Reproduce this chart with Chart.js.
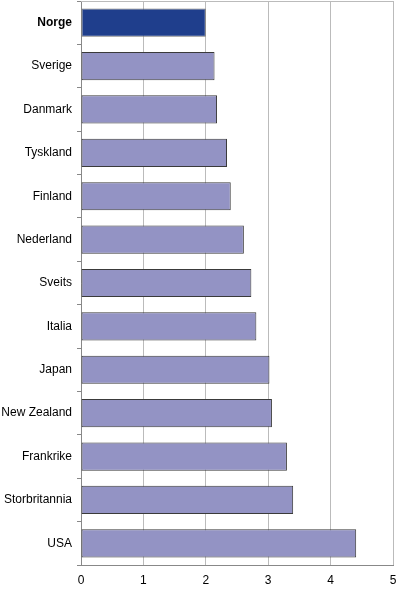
<!DOCTYPE html>
<html><head><meta charset="utf-8">
<script src="https://cdn.jsdelivr.net/npm/chart.js@4"></script>
<style>html,body{margin:0;padding:0;background:#fff;}#wrap{width:397px;height:590px;}</style>
</head><body><div id="wrap"><canvas id="c"></canvas></div>
<script>
const categories = ["Norge","Sverige","Danmark","Tyskland","Finland","Nederland","Sveits","Italia","Japan","New Zealand","Frankrike","Storbritannia","USA"];
const values = [2.0,2.14,2.18,2.34,2.40,2.61,2.73,2.81,3.02,3.06,3.30,3.40,4.41];
const xTicks = [0,1,2,3,4,5];
const highlight = "Norge";

const topBorder = {
  id:'topBorder',
  afterDraw(chart){
    const {ctx, chartArea:a} = chart;
    ctx.save();
    ctx.strokeStyle='#bbbbbb'; ctx.lineWidth=1;
    ctx.beginPath(); ctx.moveTo(a.left, a.top+0.5); ctx.lineTo(a.right, a.top+0.5); ctx.stroke();
    ctx.restore();
  }
};

new Chart(document.getElementById('c'), {
  type:'bar',
  data:{labels:categories, datasets:[{
    data:values,
    backgroundColor: categories.map(c=>c===highlight?'#1f3e8c':'#9393c4'),
    borderColor: categories.map(c=>c===highlight?'#707070':'#3a3a3a'),
    borderWidth:1,
    borderSkipped:false,
    categoryPercentage:1,
    barPercentage:0.65
  }]},
  options:{
    indexAxis:'y', responsive:true, maintainAspectRatio:false, animation:false,
    layout:{padding:{top:1,right:4,left:0,bottom:0}},
    plugins:{legend:{display:false}, tooltip:{enabled:false}},
    scales:{
      x:{min:0,max:5,
        afterBuildTicks(s){ s.ticks = xTicks.map(v=>({value:v})); },
        grid:{color:'#bbbbbb', drawTicks:false},
        border:{color:'#888888'},
        ticks:{color:'#000', font:{family:'Liberation Sans, Arial', size:12}, padding:8, maxRotation:0},
        afterFit(s){ s.height=25; s.paddingLeft=0; s.paddingRight=0; }
      },
      y:{
        grid:{offset:true, drawOnChartArea:false, tickLength:4, color:'#888888'},
        border:{color:'#888888'},
        ticks:{color:'#000', padding:5,
          font:(ctx)=>({family:'Liberation Sans, Arial', size:12, weight: categories[ctx.index]===highlight?'bold':'normal'})},
        afterFit(s){ s.width=81; s.paddingTop=0; s.paddingBottom=0; }
      }
    }
  },
  plugins:[topBorder]
});
</script></body></html>
